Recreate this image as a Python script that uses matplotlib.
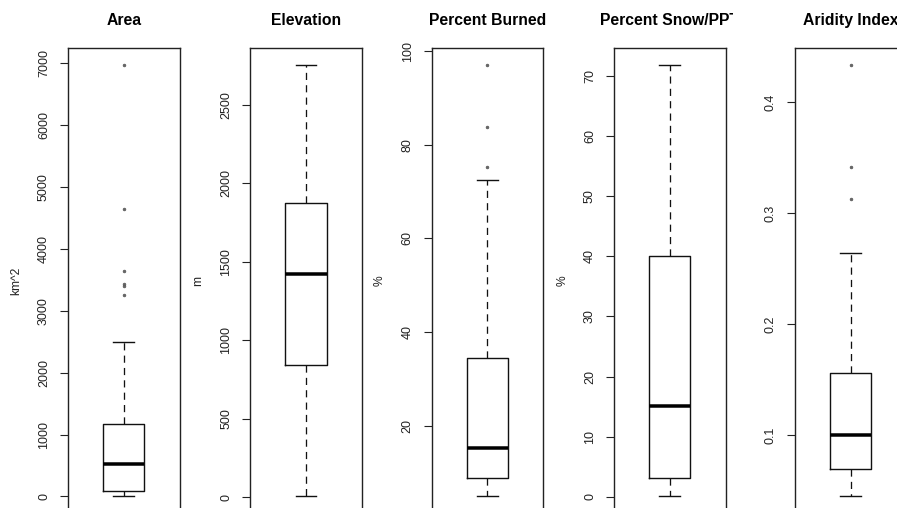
import matplotlib
matplotlib.use("Agg")
import matplotlib.pyplot as plt
from matplotlib.transforms import Bbox, TransformedBbox

plt.rcParams["font.family"] = ["Liberation Sans", "DejaVu Sans"]

# one summary per variable (whisker low, Q1, median, Q3, whisker high, outliers)
titles = ["Area", "Elevation", "Percent Burned", "Percent Snow/PPT", "Aridity Index"]
ylabels = ["km^2", "m", "%", "%", ""]
whislo = [3, 5, 4.9, 0.1, 0.0452]
q1 = [81, 844, 8.85, 3.06, 0.0693]
med = [519, 1423, 15.3, 15.15, 0.100]
q3 = [1172, 1876, 34.4, 40.1, 0.1562]
whishi = [2491, 2756, 72.5, 71.8, 0.2643]
fliers = [
    [6970, 4650, 3635, 3425, 3395, 3246],
    [],
    [97.1, 83.9, 75.3],
    [],
    [0.4334, 0.3416, 0.313],
]
yticks = [
    [0, 1000, 2000, 3000, 4000, 5000, 6000, 7000],
    [0, 500, 1000, 1500, 2000, 2500],
    [20, 40, 60, 80, 100],
    [0, 10, 20, 30, 40, 50, 60, 70],
    [0.1, 0.2, 0.3, 0.4],
]
yticklabels = [
    ["0", "1000", "2000", "3000", "4000", "5000", "6000", "7000"],
    ["0", "500", "1000", "1500", "2000", "2500"],
    ["20", "40", "60", "80", "100"],
    ["0", "10", "20", "30", "40", "50", "60", "70"],
    ["0.1", "0.2", "0.3", "0.4"],
]

W, H = 897, 508
fig = plt.figure(figsize=(W / 72, H / 72), dpi=72)

lefts = [68, 250.3, 431.7, 614, 795]
pw = 111.5
top, bottom = 47.7, 513.5

for i in range(5):
    ax = fig.add_axes([lefts[i] / W, 1 - bottom / H, pw / W, (bottom - top) / H])
    stats = [{
        "whislo": whislo[i], "q1": q1[i], "med": med[i], "q3": q3[i],
        "whishi": whishi[i], "fliers": fliers[i],
    }]
    ax.bxp(stats, positions=[1], widths=0.4, capwidths=[0.2],
           boxprops=dict(color="#111111", linewidth=1.4),
           medianprops=dict(color="black", linewidth=3.5, solid_capstyle="butt"),
           whiskerprops=dict(color="#111111", linewidth=1.3, linestyle=(0, (5.5, 4))),
           capprops=dict(color="#111111", linewidth=1.4),
           flierprops=dict(marker="o", markersize=2.8, markerfacecolor="#666666",
                           markeredgecolor="#555555", markeredgewidth=0.6))

    vals = [whislo[i], whishi[i]] + fliers[i]
    lo, hi = min(vals), max(vals)
    pad = 0.04 * (hi - lo)
    ax.set_ylim(lo - pad, hi + pad)
    ax.set_xlim(0.46, 1.54)

    ax.set_xticks([])
    ax.set_yticks(yticks[i])
    ax.set_yticklabels(yticklabels[i], rotation=90, va="center", fontsize=12.5,
                       color="#222222")
    ax.tick_params(axis="y", length=8, width=1.1, pad=10, colors="#222222")
    for s in ax.spines.values():
        s.set_linewidth(1.4)
        s.set_color("#222222")

    t = ax.set_title(titles[i], fontsize=15.7, fontweight="bold", pad=23)
    if i == 3:
        # title runs past the panel's own region, so cut it there
        clip = TransformedBbox(Bbox.from_extents(551 / W, 0, 733 / W, 1), fig.transFigure)
        t.set_clip_box(clip)
        t.set_clip_on(True)

    if ylabels[i]:
        ax.set_ylabel(ylabels[i], fontsize=12, color="#222222")
        ax.yaxis.set_label_coords(-0.41, 0.5)

fig.savefig("out.png", dpi=72)
